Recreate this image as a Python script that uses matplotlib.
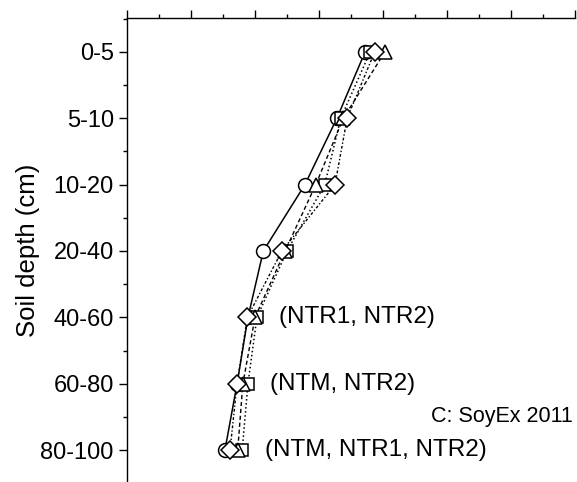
import numpy as np
import matplotlib.pyplot as plt
from matplotlib.ticker import MultipleLocator

plt.rcParams['font.family'] = ['Liberation Sans', 'DejaVu Sans']

depths = ['0-5', '5-10', '10-20', '20-40', '40-60', '60-80', '80-100']

# values (x axis has no labels, arbitrary units)
circle = [3.72, 3.28, 2.78, 2.13, 1.89, 1.72, 1.53]
square = [3.80, 3.34, 3.09, 2.50, 2.03, 1.89, 1.80]
triangle = [4.03, 3.38, 2.95, 2.47, 2.00, 1.81, 1.73]
diamond = [3.87, 3.44, 3.25, 2.42, 1.88, 1.72, 1.61]

notes = [(4, '(NTR1, NTR2)'), (5, '(NTM, NTR2)'), (6, '(NTM, NTR1, NTR2)')]

fig = plt.figure(figsize=(5.77, 4.82), dpi=100)
ax = fig.add_axes([127 / 577, 0.0, 448 / 577, 1 - 18 / 482])

y = np.arange(len(depths))
mk = dict(mfc='white', mec='black', ms=10, mew=1.1, color='black', clip_on=False)
ax.plot(circle, y, marker='o', ls='-', lw=1.1, **mk)
ax.plot(square, y, marker='s', ls=':', lw=1.1, ms=9, mfc='white', mec='black',
        mew=1.1, color='black', clip_on=False)
ax.plot(triangle, y, marker='^', ls=(0, (3, 2)), lw=1.0, **mk)
ax.plot(diamond, y, marker='D', ls=(0, (2, 1.5, 1, 1.5)), lw=1.0,
        mfc='white', mec='black', ms=9, mew=1.1, color='black', clip_on=False)

for i, t in notes:
    xs = max(circle[i], square[i], triangle[i], diamond[i])
    ax.text(xs + 0.35, i, t, fontsize=17.5, va='center', ha='left')
ax.text(4.75, 5.5, 'C: SoyEx 2011', fontsize=15.5, va='center', ha='left')

ax.set_xlim(0, 7)
ax.set_ylim(6.48, -0.51)
ax.set_yticks(y)
ax.set_yticklabels(depths, fontsize=17)
ax.yaxis.set_minor_locator(plt.FixedLocator(np.arange(-0.5, 7, 1)))
ax.set_ylabel('Soil depth (cm)', fontsize=18.5, labelpad=0)

ax.xaxis.set_major_locator(MultipleLocator(1))
ax.xaxis.set_minor_locator(MultipleLocator(0.5))
ax.xaxis.tick_top()
ax.tick_params(axis='x', which='both', labeltop=False, labelbottom=False)
ax.tick_params(which='major', length=6, width=1, direction='out')
ax.tick_params(which='minor', length=3, width=1, direction='out')

for s in ['right', 'bottom']:
    ax.spines[s].set_visible(False)
for s in ['left', 'top']:
    ax.spines[s].set_linewidth(1)

plt.savefig('out.png', dpi=100)
